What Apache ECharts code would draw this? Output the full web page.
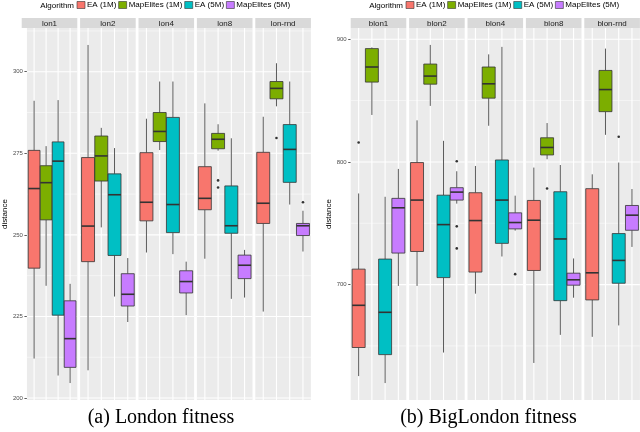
<!DOCTYPE html>
<html>
<head>
<meta charset="utf-8">
<script src="https://cdn.jsdelivr.net/npm/echarts@6/dist/echarts.min.js"></script>
<style>
  html, body { margin: 0; padding: 0; background: #fff; }
  #main { width: 640px; height: 432px; }
</style>
</head>
<body>
<div id="main"></div>
<script>
  var algorithms = ['EA (1M)', 'MapElites (1M)', 'EA (5M)', 'MapElites (5M)'];
  var algColors = ['#F8766D', '#7CAE00', '#00BFC4', '#C77CFF'];

  var londonFacets = ['lon1', 'lon2', 'lon4', 'lon8', 'lon-rnd'];
  var bigLondonFacets = ['blon1', 'blon2', 'blon4', 'blon8', 'blon-rnd'];

  // [lower whisker, q1, median, q3, upper whisker], one row per algorithm
  var lon1 = [[212.1, 239.8, 264.2, 275.9, 291.1], [234.4, 254.6, 266.0, 271.2, 277.2], [206.9, 225.4, 272.6, 278.5, 291.3], [204.6, 209.4, 218.2, 229.8, 235.0]];
  var lon2 = [[208.5, 241.8, 252.7, 273.7, 308.2], [252.3, 266.5, 274.2, 280.3, 282.8], [231.1, 243.7, 262.3, 268.7, 276.6], [223.3, 228.2, 231.8, 238.1, 242.9]];
  var lon4 = [[244.6, 254.3, 260.0, 275.2, 285.6], [276.0, 278.6, 281.7, 287.5, 297.0], [244.1, 250.7, 259.3, 286.0, 297.0], [225.4, 232.2, 235.7, 239.0, 241.8]];
  var lon8 = [[242.7, 257.7, 261.2, 270.9, 290.3], [275.8, 276.4, 279.3, 281.1, 283.9], [230.4, 250.5, 252.8, 265.0, 279.6], [230.8, 236.6, 240.7, 243.8, 245.4]];
  var lonRnd = [[226.5, 253.5, 259.7, 275.3, 286.2], [289.4, 291.7, 294.9, 297.0, 302.6], [259.3, 266.1, 276.2, 283.8, 297.0], [244.9, 249.8, 252.8, 253.5, 257.4]];

  var blon1 = [[625.4, 648.7, 683.1, 712.6, 774.3], [838.3, 865.1, 877.4, 892.4, 893.4], [619.7, 642.9, 677.4, 720.8, 771.6], [698.9, 725.7, 762.6, 770.3, 794.3]];
  var blon2 = [[698.9, 727.0, 768.9, 799.5, 833.9], [845.7, 863.4, 870.0, 879.8, 895.4], [644.6, 705.7, 748.9, 772.9, 817.2], [766.0, 768.9, 775.4, 779.0, 792.4]];
  var blon4 = [[692.6, 710.2, 752.2, 774.9, 796.7], [829.5, 852.0, 863.7, 877.4, 887.7], [722.9, 733.6, 768.9, 801.6, 893.8], [744.0, 745.4, 750.6, 758.5, 772.5]];
  var blon8 = [[636.1, 711.5, 752.5, 768.6, 795.4], [802.2, 805.7, 811.8, 819.7, 831.7], [659.0, 686.9, 737.2, 775.7, 797.5], [689.3, 699.5, 703.9, 709.3, 721.3]];
  var blonRnd = [[657.4, 687.5, 709.6, 778.2, 789.9], [822.1, 841.0, 859.0, 874.6, 892.4], [666.7, 701.1, 719.7, 741.6, 799.5], [730.7, 744.3, 756.6, 764.5, 777.9]];

  // [facet index, algorithm index, value]
  var londonOutliers = [[3, 1, 266.7], [3, 1, 264.5], [4, 1, 279.7], [4, 3, 260.0]];
  var bigLondonOutliers = [[0, 0, 815.9], [1, 3, 800.6], [1, 3, 747.5], [1, 3, 729.5], [2, 3, 708.5], [3, 1, 778.4], [4, 2, 820.5]];

  var londonTicks = [200, 225, 250, 275, 300];
  var londonMinor = [212.5, 237.5, 262.5, 287.5, 312.5];
  var londonRange = [199.4, 313.4];
  var bigLondonTicks = [700, 800, 900];
  var bigLondonMinor = [650, 750, 850];
  var bigLondonRange = [605.9, 909.2];

  var captions = ['(a) London fitness', '(b) BigLondon fitness'];

  var SANS = '"Liberation Sans", Arial, sans-serif';
  var SERIF = '"Liberation Serif", "Times New Roman", serif';

  // layout
  var panelLefts = [21.7, 350.7];
  var captionCenters = [161, 488.5];
  var facetW = 55.6, facetGap = 2.8;
  var plotTop = 28, plotH = 372;
  var stripTop = 18, stripH = 10;

  var panels = [
    { facets: londonFacets, boxes: [lon1, lon2, lon4, lon8, lonRnd], outliers: londonOutliers,
      ticks: londonTicks, minor: londonMinor, range: londonRange },
    { facets: bigLondonFacets, boxes: [blon1, blon2, blon4, blon8, blonRnd], outliers: bigLondonOutliers,
      ticks: bigLondonTicks, minor: bigLondonMinor, range: bigLondonRange }
  ];

  function renderGridLine(params, api) {
    var cs = params.coordSys;
    var kind = api.value(0), v = api.value(1);
    if (kind === 2) {
      var x = api.coord([v, api.value(2)])[0];
      return { type: 'line', shape: { x1: x, y1: cs.y, x2: x, y2: cs.y + cs.height },
        style: { stroke: '#fff', lineWidth: 1.1 } };
    }
    var y = api.coord([1, v])[1];
    return { type: 'line', shape: { x1: cs.x, y1: y, x2: cs.x + cs.width, y2: y },
      style: { stroke: '#fff', lineWidth: kind === 0 ? 1.1 : 0.5 } };
  }

  function renderBox(params, api) {
    var x = api.value(0);
    var lo = api.coord([x, api.value(1)]);
    var q1 = api.coord([x, api.value(2)]);
    var md = api.coord([x, api.value(3)]);
    var q3 = api.coord([x, api.value(4)]);
    var hi = api.coord([x, api.value(5)]);
    var w = api.size([1, 0])[0] * 0.98;
    var cx = lo[0];
    var whisker = { stroke: '#5a5a5a', lineWidth: 1 };
    return {
      type: 'group',
      children: [
        { type: 'line', shape: { x1: cx, y1: hi[1], x2: cx, y2: q3[1] }, style: whisker },
        { type: 'line', shape: { x1: cx, y1: q1[1], x2: cx, y2: lo[1] }, style: whisker },
        { type: 'rect', shape: { x: cx - w / 2, y: q3[1], width: w, height: q1[1] - q3[1] },
          style: { fill: api.visual('color'), stroke: '#333', lineWidth: 0.8 } },
        { type: 'line', shape: { x1: cx - w / 2, y1: md[1], x2: cx + w / 2, y2: md[1] },
          style: { stroke: '#333', lineWidth: 1.6 } }
      ]
    };
  }

  var grids = [], xAxes = [], yAxes = [], series = [], graphics = [], legends = [];

  panels.forEach(function (p, pi) {
    var mid = (p.range[0] + p.range[1]) / 2;
    p.facets.forEach(function (name, fi) {
      var gi = pi * 5 + fi;
      var left = panelLefts[pi] + fi * (facetW + facetGap);
      grids.push({ left: left, top: plotTop, width: facetW, height: plotH, show: true,
        backgroundColor: '#EBEBEB', borderWidth: 0 });
      xAxes.push({ type: 'value', gridIndex: gi, min: 0.4, max: 4.6, show: false });
      yAxes.push({
        type: 'value', gridIndex: gi, min: p.range[0], max: p.range[1],
        name: fi === 0 ? 'distance' : '', nameLocation: 'middle', nameRotate: 90, nameGap: 14,
        nameTextStyle: { fontSize: 8, color: '#000', fontFamily: SANS },
        axisLine: { show: false },
        splitLine: { show: false },
        axisTick: { show: fi === 0, customValues: p.ticks, length: 2.5, lineStyle: { color: '#333', width: 0.8 } },
        axisLabel: { show: fi === 0, customValues: p.ticks, fontSize: 6, color: '#4D4D4D', margin: 4, fontFamily: SANS }
      });

      var lines = [];
      p.ticks.forEach(function (t) { lines.push([0, t, 0]); });
      p.minor.forEach(function (t) { lines.push([1, t, 0]); });
      algorithms.forEach(function (a, ai) { lines.push([2, ai + 1, mid]); });
      series.push({ type: 'custom', xAxisIndex: gi, yAxisIndex: gi, z: 1, silent: true,
        renderItem: renderGridLine, data: lines });

      p.boxes[fi].forEach(function (b, ai) {
        series.push({ type: 'custom', name: algorithms[ai], xAxisIndex: gi, yAxisIndex: gi, z: 3,
          itemStyle: { color: algColors[ai] }, renderItem: renderBox,
          data: [[ai + 1].concat(b)] });
      });

      var outs = p.outliers.filter(function (o) { return o[0] === fi; })
        .map(function (o) { return [o[1] + 1, o[2]]; });
      if (outs.length) {
        series.push({ type: 'scatter', xAxisIndex: gi, yAxisIndex: gi, z: 4, symbolSize: 2.6,
          itemStyle: { color: '#000' }, data: outs });
      }

      graphics.push({ type: 'rect', silent: true, shape: { x: left, y: stripTop, width: facetW, height: stripH },
        style: { fill: '#D9D9D9' } });
      graphics.push({ type: 'text', silent: true, x: left + facetW / 2, y: stripTop + stripH / 2 + 0.5,
        style: { text: name, textAlign: 'center', textVerticalAlign: 'middle', fontSize: 8,
          fontFamily: SANS, fill: '#1A1A1A' } });
    });

    graphics.push({ type: 'text', silent: true, x: panelLefts[pi] + 18.5, y: 5.5,
      style: { text: 'Algorithm', textAlign: 'left', textVerticalAlign: 'middle', fontSize: 8,
        fontFamily: SANS, fill: '#000' } });
    graphics.push({ type: 'text', silent: true, x: captionCenters[pi], y: 418,
      style: { text: captions[pi], textAlign: 'center', textVerticalAlign: 'middle', fontSize: 20,
        fontFamily: SERIF, fill: '#000' } });

    legends.push({ data: algorithms, left: panelLefts[pi] + 55, top: 1, padding: 0, icon: 'rect',
      itemWidth: 8, itemHeight: 7, itemGap: 2, selectedMode: false,
      itemStyle: { borderColor: '#333', borderWidth: 0.6 },
      textStyle: { fontSize: 8, color: '#000', fontFamily: SANS, padding: [0, 0, 0, -3] } });
  });

  var chart = echarts.init(document.getElementById('main'));
  chart.setOption({
    animation: false,
    backgroundColor: '#fff',
    grid: grids,
    xAxis: xAxes,
    yAxis: yAxes,
    legend: legends,
    graphic: graphics,
    series: series
  });
</script>
</body>
</html>
